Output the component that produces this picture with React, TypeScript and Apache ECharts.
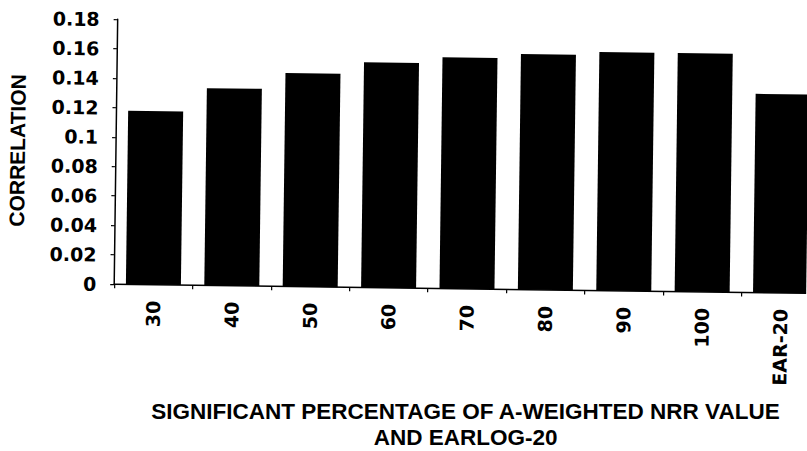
import React, { useEffect, useRef } from "react";
import * as echarts from "echarts";

// Categories on the x axis
const categories: string[] = ["30", "40", "50", "60", "70", "80", "90", "100", "EAR-20"];
// Correlation value per category
const correlation: number[] = [0.118, 0.134, 0.145, 0.153, 0.157, 0.16, 0.162, 0.162, 0.135];
// Y axis range
const yMin = 0;
const yMax = 0.18;
const yStep = 0.02;
// Axis titles
const yAxisTitle = "CORRELATION";
const xAxisTitle = "SIGNIFICANT PERCENTAGE OF A-WEIGHTED NRR VALUE\nAND EARLOG-20";

export default function App() {
  const ref = useRef<HTMLDivElement>(null);

  useEffect(() => {
    if (!ref.current) return;
    const chart = echarts.init(ref.current, null, { renderer: "svg" });
    chart.setOption({
      animation: false,
      backgroundColor: "#fff",
      grid: {
        left: 115,
        top: 23,
        width: 705.6,
        height: 265,
        containLabel: false,
        outerBoundsMode: "none",
      },
      xAxis: {
        type: "category",
        data: categories,
        axisLine: { show: true, lineStyle: { color: "#000", width: 1.5 } },
        axisTick: { show: true, length: 4, lineStyle: { color: "#000", width: 1.2 } },
        axisLabel: {
          interval: 0,
          rotate: 90,
          margin: 16,
          color: "#000",
          fontFamily: "DejaVu Sans",
          fontWeight: "bold",
          fontSize: 19,
        },
        name: xAxisTitle,
        nameLocation: "middle",
        nameGap: 110,
        nameRotate: 0.75,
        nameTextStyle: {
          color: "#000",
          fontFamily: "Liberation Sans",
          fontWeight: "bold",
          fontSize: 22.5,
          lineHeight: 26,
          align: "center",
          verticalAlign: "top",
        },
      },
      yAxis: {
        type: "value",
        min: yMin,
        max: yMax,
        interval: yStep,
        splitLine: { show: false },
        axisLine: { show: true, lineStyle: { color: "#000", width: 1.5 } },
        axisTick: { show: true, length: 4, lineStyle: { color: "#000", width: 1.2 } },
        axisLabel: {
          margin: 18,
          color: "#000",
          fontFamily: "DejaVu Sans",
          fontWeight: "bold",
          fontSize: 19,
        },
        name: yAxisTitle,
        nameLocation: "middle",
        nameRotate: 90,
        nameGap: 88,
        nameTextStyle: {
          color: "#000",
          fontFamily: "Liberation Sans",
          fontWeight: "bold",
          fontSize: 21,
        },
      },
      series: [
        {
          type: "bar",
          data: correlation,
          barWidth: 55,
          itemStyle: { color: "#000" },
        },
      ],
    });
    return () => chart.dispose();
  }, []);

  return (
    <div
      style={{
        position: "fixed",
        left: 0,
        top: 0,
        width: 807,
        height: 451,
        overflow: "hidden",
        background: "#fff",
      }}
    >
      <div
        ref={ref}
        style={{
          width: 807,
          height: 451,
          transform: "rotate(0.75deg)",
          transformOrigin: "403px 225px",
        }}
      />
    </div>
  );
}
